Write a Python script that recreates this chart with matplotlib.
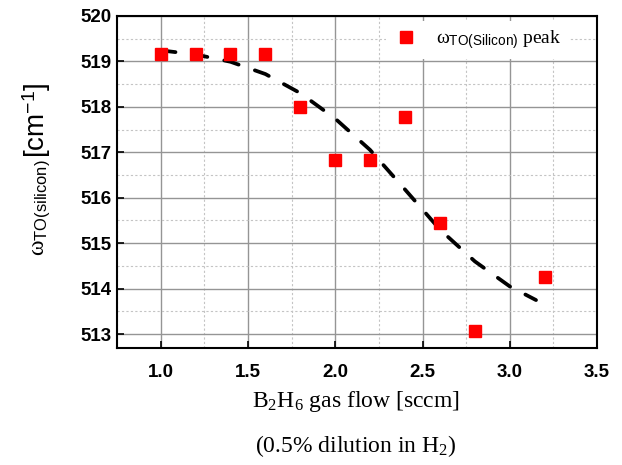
import matplotlib
matplotlib.use("Agg")
import matplotlib.pyplot as plt
from matplotlib.ticker import MultipleLocator

plt.rcParams['mathtext.fontset'] = 'custom'
plt.rcParams['mathtext.rm'] = 'Liberation Serif'
plt.rcParams['mathtext.it'] = 'Liberation Serif:italic'
plt.rcParams['mathtext.sf'] = 'Liberation Sans'

# Raman TO peak position vs. diborane flow
flow = [1.0, 1.2, 1.4, 1.6, 1.8, 2.0, 2.2, 2.4, 2.6, 2.8, 3.2]
peak = [519.17, 519.17, 519.17, 519.17, 518.0, 516.82, 516.82, 517.78, 515.44, 513.08, 514.26]

# guide-to-the-eye trend line
fit_x = [1.0, 1.2, 1.4, 1.6, 1.8, 2.0, 2.2, 2.4, 2.6, 2.8, 3.0, 3.15]
fit_y = [519.24, 519.15, 518.99, 518.72, 518.3, 517.74, 517.05, 516.18, 515.3, 514.6, 514.05, 513.75]

fig = plt.figure(figsize=(6.22, 4.65), dpi=100)
ax = fig.add_axes([0.188, 0.252, 0.772, 0.714])

ax.plot(fit_x, fit_y, color='black', lw=2.7, ls=(0, (4.0, 4.6)), dash_capstyle='round', zorder=3)
ax.plot(flow, peak, ls='none', marker='s', ms=8.3, color='#ff0000', mec='#ff0000',
        label=r'$\mathrm{\omega}_{\mathsf{TO(Silicon)}}$ peak', zorder=4)

ax.set_xlim(0.75, 3.5)
ax.set_ylim(512.7, 520)
ax.xaxis.set_major_locator(MultipleLocator(0.5))
ax.xaxis.set_minor_locator(MultipleLocator(0.25))
ax.yaxis.set_major_locator(MultipleLocator(1))
ax.yaxis.set_minor_locator(MultipleLocator(0.5))

ax.grid(which='major', color='#959595', lw=1.0, ls='-')
ax.grid(which='minor', color='#c4c4c4', lw=0.8, ls=(0, (2, 2)))
ax.set_axisbelow(True)

ax.tick_params(which='major', direction='in', length=5, width=1.2, labelsize=13.5)
ax.tick_params(axis='x', pad=12)
ax.tick_params(axis='y', pad=4)
ax.tick_params(which='minor', length=0)
for lab in ax.get_xticklabels() + ax.get_yticklabels():
    lab.set_fontweight('bold')
    lab.set_fontfamily('Liberation Sans')
for sp in ax.spines.values():
    sp.set_linewidth(1.5)

# y label in two parts: symbol with subscript, then the unit
fig.text(44 / 622, 1 - 208 / 465, r'$\mathrm{\omega}_{\mathsf{TO(silicon)}}$',
         fontsize=17, rotation=90, rotation_mode='anchor', ha='center', va='baseline')
fig.text(45 / 622, 1 - 120 / 465, r'[cm$^{\mathsf{-1}}$]', fontfamily='Liberation Sans',
         fontsize=20, rotation=90, rotation_mode='anchor', ha='center', va='baseline')

fig.text(0.572, 1 - 407 / 465, r'B$_2$H$_6$ gas flow [sccm]', fontfamily='Liberation Serif',
         fontsize=17, ha='center', va='baseline')
fig.text(0.572, 1 - 452 / 465, r'(0.5% dilution in H$_2$)', fontfamily='Liberation Serif',
         fontsize=17, ha='center', va='baseline')

leg = ax.legend(loc='center left', bbox_to_anchor=(0.561, 0.927), frameon=True, fancybox=False,
                prop={'family': 'Liberation Serif', 'size': 14}, handletextpad=0.93,
                borderpad=0.4, handlelength=1.2, borderaxespad=0)
leg.get_frame().set_edgecolor('none')
leg.get_frame().set_facecolor('white')
leg.get_frame().set_alpha(1)

fig.savefig('out.png', dpi=100)
